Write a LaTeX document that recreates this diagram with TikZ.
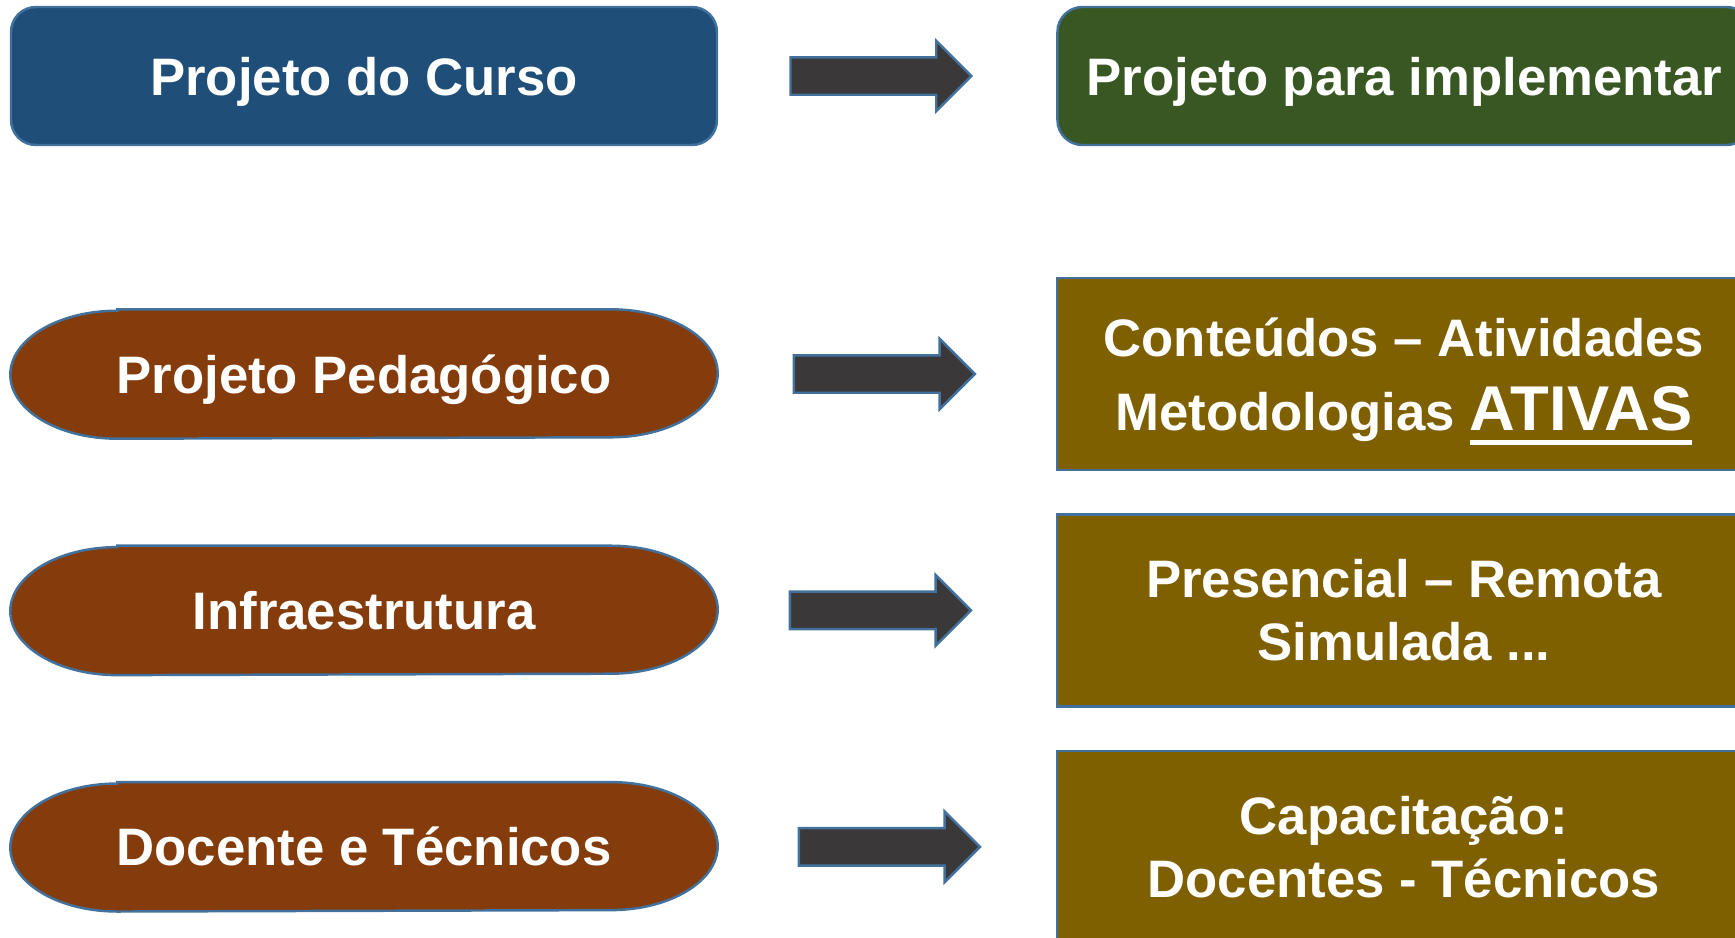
\documentclass[tikz,border=0pt]{standalone}
\usepackage{fontspec}
\setmainfont{Liberation Sans}
\usepackage{tikz}
\usetikzlibrary{positioning, shapes.arrows, backgrounds}

\definecolor{azul}{RGB}{31,78,121}
\definecolor{verde}{RGB}{56,87,35}
\definecolor{marrom}{RGB}{132,60,12}
\definecolor{oliva}{RGB}{127,96,0}
\definecolor{cinza}{RGB}{58,56,56}
\definecolor{contorno}{RGB}{65,113,156}

\newcommand{\sublinha}[1]{\vtop{\hbox{#1}\kern2.6pt\hrule height 1.4pt}}

\begin{document}
\begin{tikzpicture}[
      box/.style={draw=contorno, line width=0.7pt, fill=oliva, text=white, align=center, minimum width=69.4mm, minimum height=19.2mm, font=\bfseries\fontsize{15}{18}\selectfont},
      topo/.style={box, rounded corners=2.5mm, minimum height=13.8mm, text height=3.8mm, text depth=0pt},
      pill/.style={text=white, minimum width=70.6mm, minimum height=12.8mm, text height=3.8mm, text depth=0pt, font=\bfseries\fontsize{15}{18}\selectfont},
      pillfundo/.style={draw=contorno, line width=0.7pt, fill=marrom},
      seta/.style={single arrow, draw=contorno, line width=0.7pt, fill=cinza, minimum height=18.1mm, inner xsep=0pt, inner ysep=1.75mm, single arrow head extend=1.65mm}
    ]
    \useasboundingbox (0,0) rectangle (173.5mm,93.7mm);
    \clip (0,0) rectangle (173.5mm,93.7mm);

    \node[topo, fill=azul, minimum width=70.6mm] (curso) at (36.4mm,86.1mm) {Projeto do Curso};
    \node[topo, fill=verde, right=33.8mm of curso] (implementar) {Projeto para implementar};

    \node[pill] (pedagogico) at (36.4mm,56.3mm) {Projeto Pedagógico};
    \node[pill, below=10.7mm of pedagogico] (infra) {Infraestrutura};
    \node[pill, below=10.7mm of infra] (docentes) {Docente e Técnicos};

    \node[box, right=33.8mm of pedagogico] (conteudos) {\rule{0pt}{5.3mm}Conteúdos – Atividades\\[3pt]Metodologias {\fontsize{18}{18}\selectfont\sublinha{ATIVAS}}};
    \node[box, right=33.8mm of infra] (presencial) {Presencial – Remota\\Simulada ...};
    \node[box, right=33.8mm of docentes] (capacitacao) {Capacitação:\\Docentes - Técnicos};

    \node[seta, right=7.1mm of curso] (seta1) {};
    \node[seta, right=7.5mm of pedagogico] (seta2) {};
    \node[seta, right=7.1mm of infra] (seta3) {};
    \node[seta, right=8.0mm of docentes] (seta4) {};

    \begin{scope}[on background layer]
      \foreach \n in {pedagogico, infra, docentes}
        \draw[pillfundo] ([xshift=10.7mm]\n.north west) -- ([xshift=-10.7mm]\n.north east)
          arc[start angle=90, end angle=-90, x radius=10.7mm, y radius=6.4mm]
          -- ([xshift=10.7mm]\n.south west)
          arc[start angle=270, end angle=90, x radius=10.7mm, y radius=6.4mm] -- cycle;
    \end{scope}
  \end{tikzpicture}
\end{document}
